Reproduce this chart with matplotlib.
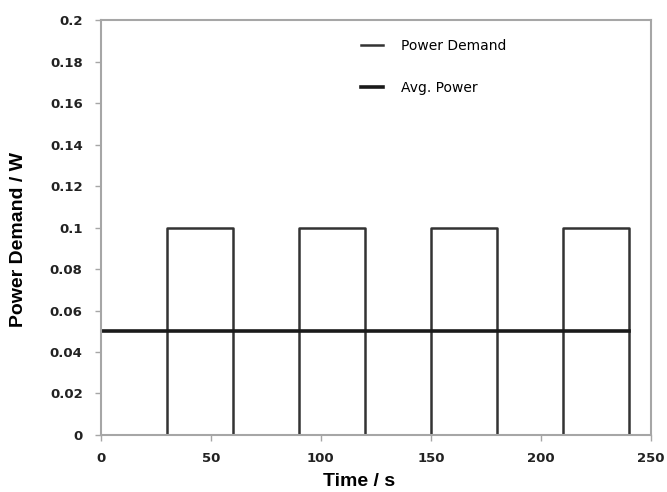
import matplotlib
matplotlib.use("Agg")
import matplotlib.pyplot as plt

# Pulsed power demand: 30 s on / 30 s off, four cycles
step_time = [0, 30, 30, 60, 60, 90, 90, 120, 120, 150, 150, 180, 180, 210, 210, 240, 240]
step_power = [0, 0, 0.1, 0.1, 0, 0, 0.1, 0.1, 0, 0, 0.1, 0.1, 0, 0, 0.1, 0.1, 0]

avg_time = [0, 240]
avg_power = [0.05, 0.05]

yticks = [0, 0.02, 0.04, 0.06, 0.08, 0.1, 0.12, 0.14, 0.16, 0.18, 0.2]
ytick_labels = ["0", "0.02", "0.04", "0.06", "0.08", "0.1", "0.12", "0.14", "0.16", "0.18", "0.2"]
xticks = [0, 50, 100, 150, 200, 250]

LINE = "#333333"
FRAME = "#a6a6a6"

fig = plt.figure(figsize=(6.67, 4.92), dpi=100)
ax = fig.add_axes([0.151, 0.116, 0.825, 0.843])

ax.plot(step_time, step_power, color=LINE, linewidth=1.8, label="Power Demand")
ax.plot(avg_time, avg_power, color="#1a1a1a", linewidth=2.6, label="Avg. Power")

ax.set_xlim(0, 250)
ax.set_ylim(0, 0.2)
ax.set_xticks(xticks)
ax.set_yticks(yticks)
ax.set_yticklabels(ytick_labels)

for s in ax.spines.values():
    s.set_color(FRAME)
    s.set_linewidth(1.5)
ax.tick_params(axis="both", direction="out", length=4, width=1, color=FRAME,
               labelsize=9.5, labelcolor="#222222")
ax.tick_params(axis="y", pad=9)
ax.tick_params(axis="x", pad=8)
for lbl in ax.get_xticklabels() + ax.get_yticklabels():
    lbl.set_fontweight("bold")

ax.set_xlabel("Time / s", fontsize=14, fontweight="bold", family="Liberation Sans")
ax.set_ylabel("Power Demand / W", fontsize=14, fontweight="bold", family="Liberation Sans")
ax.xaxis.set_label_coords(0.469, -0.113, transform=ax.transAxes)
ax.xaxis.label.set_va("center")
ax.yaxis.set_label_coords(-0.149, 0.47, transform=ax.transAxes)
ax.yaxis.label.set_va("center")

ax.legend(loc="upper left", bbox_to_anchor=(0.45, 0.985), frameon=False,
          fontsize=10, handlelength=1.6, handletextpad=1.3, labelspacing=2.0)

fig.savefig("out.png", dpi=100)
